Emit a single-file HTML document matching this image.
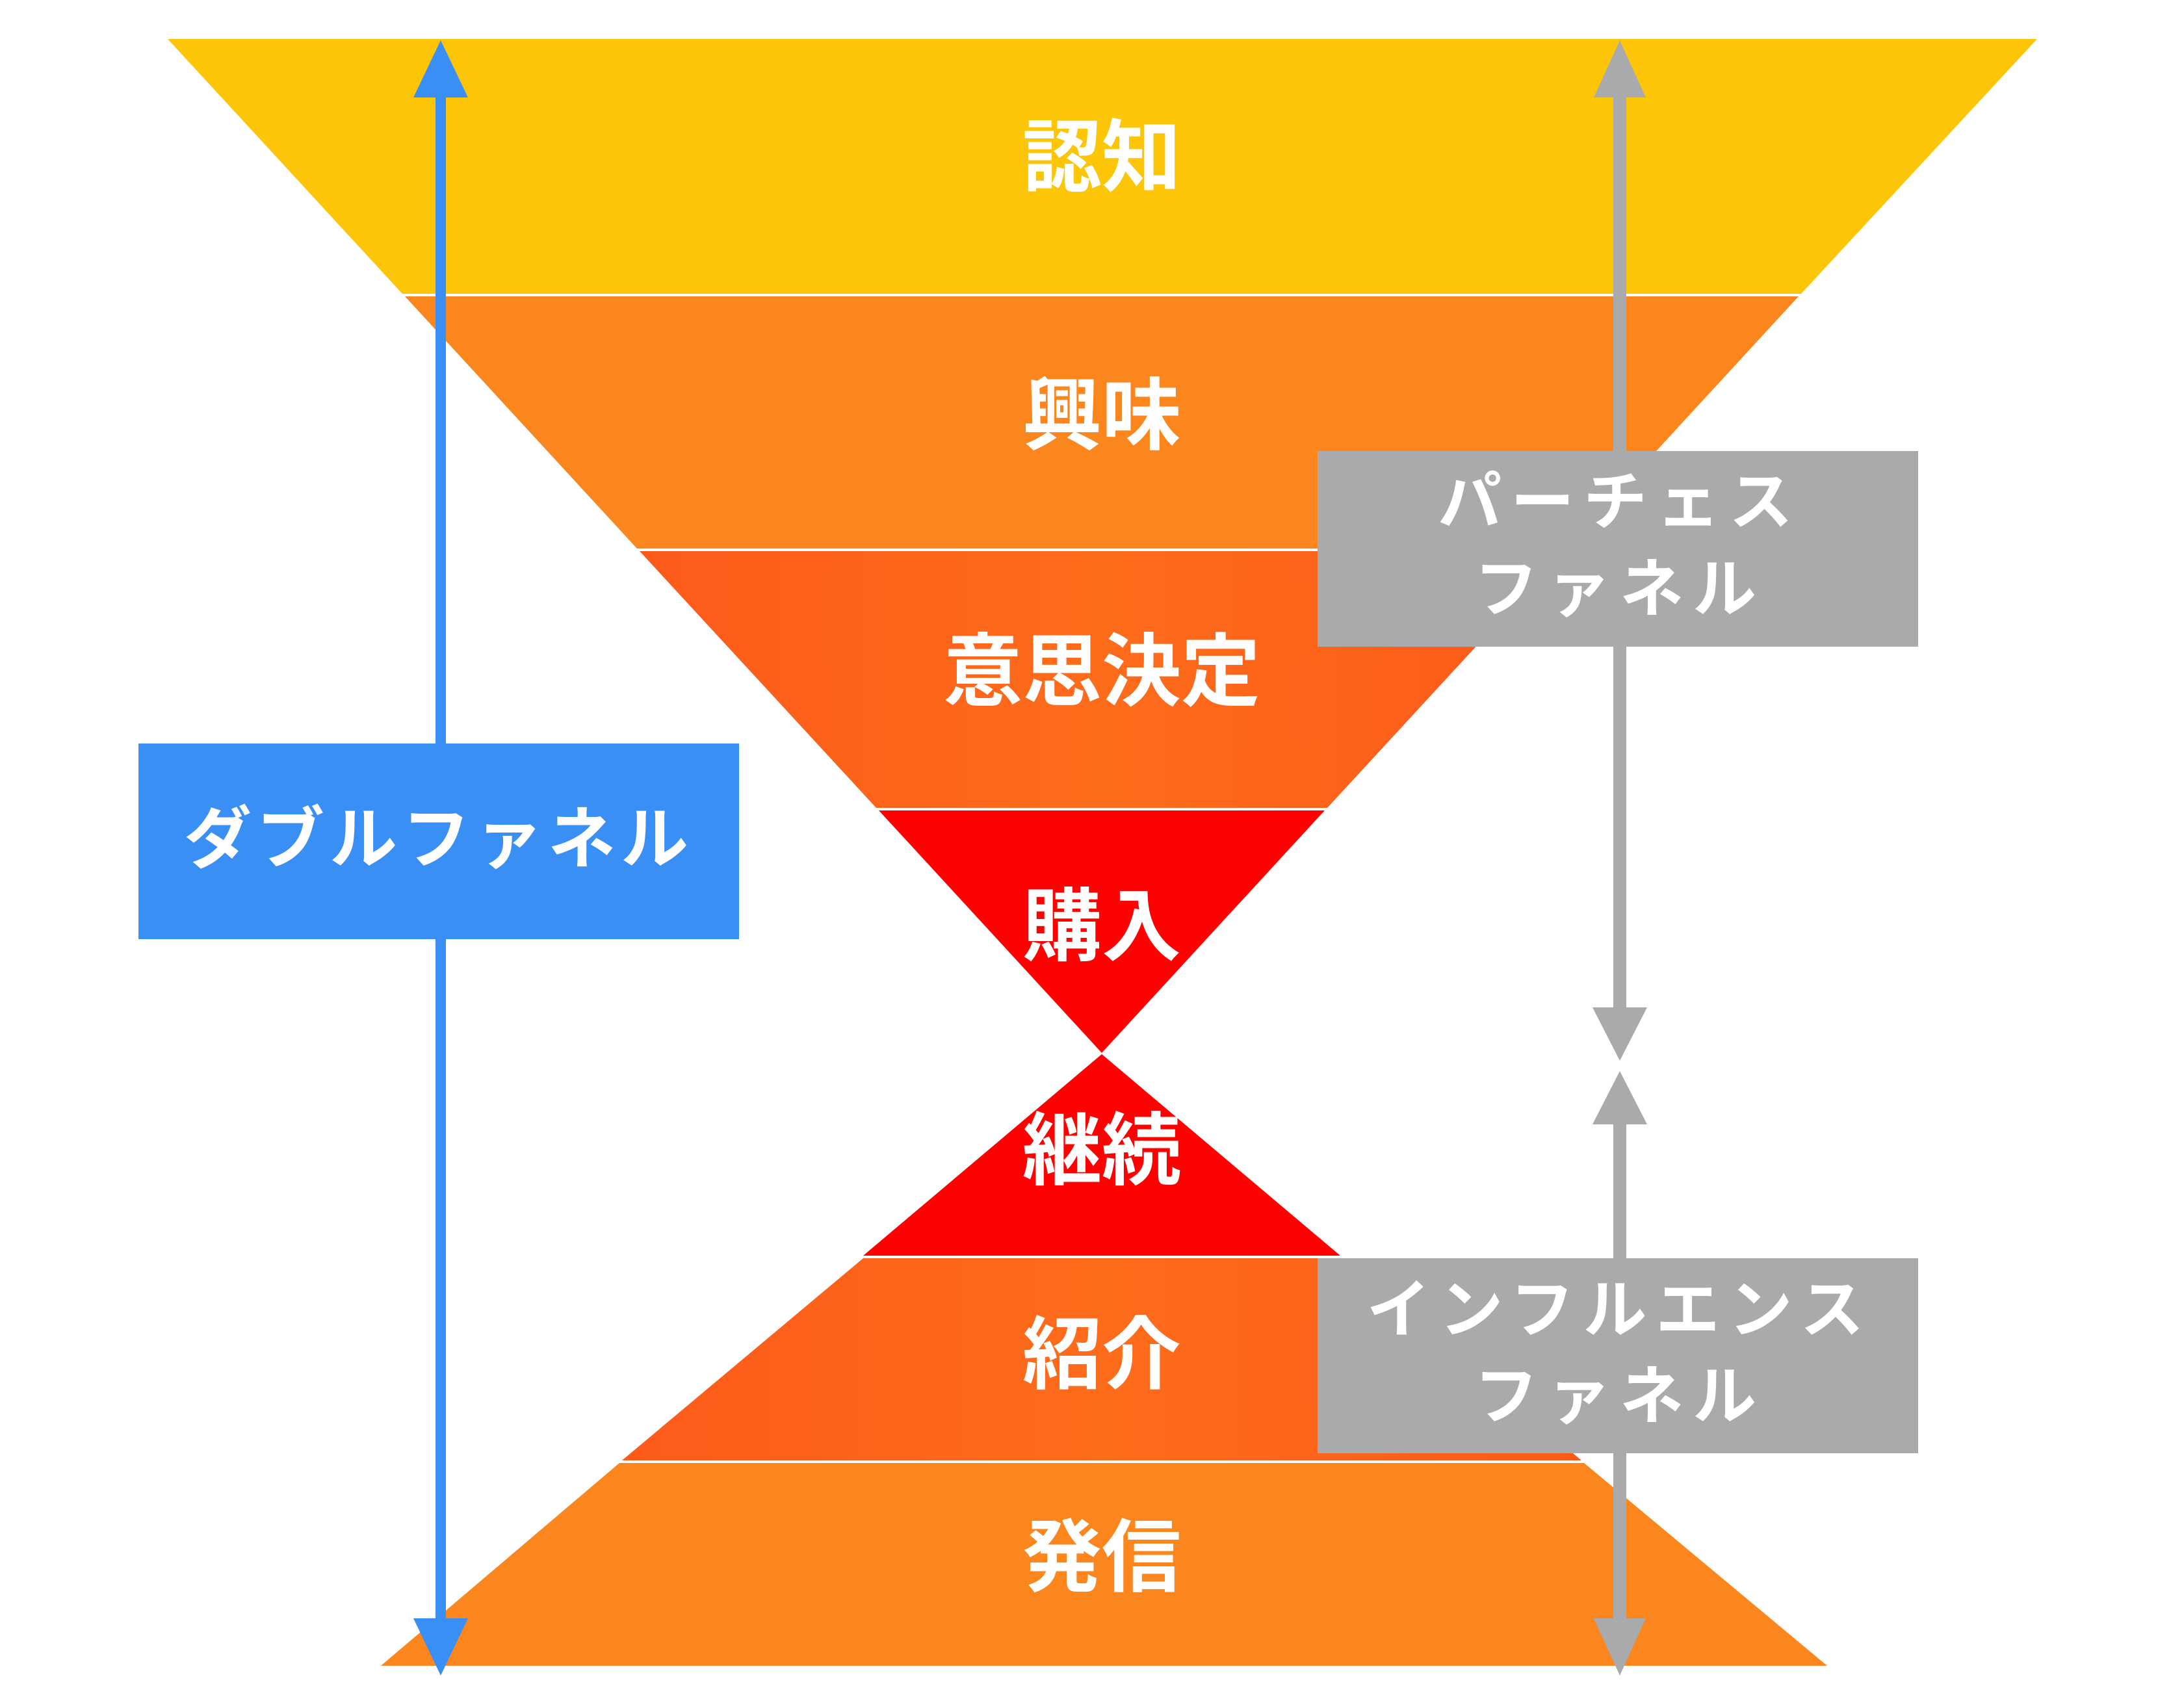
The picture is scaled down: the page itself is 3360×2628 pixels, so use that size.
<!DOCTYPE html>
<html><head><meta charset="utf-8"><style>
html,body{margin:0;padding:0;background:#fff;}
svg{display:block;}
text{font-family:"Liberation Sans","Noto Sans CJK JP",sans-serif;font-weight:bold;fill:#fff;text-anchor:middle;dominant-baseline:central;}
</style></head><body>
<svg width="3360" height="2628" viewBox="0 0 3360 2628" xmlns="http://www.w3.org/2000/svg">
<defs>
<linearGradient id="g3" x1="0" x2="1" y1="0" y2="0"><stop offset="0" stop-color="#fd5a1a"/><stop offset="0.5" stop-color="#fd6c1b"/><stop offset="1" stop-color="#fd5a1a"/></linearGradient>
</defs>
<!-- top funnel -->
<polygon points="258,60 3134,60 2771,452 619,452" fill="#fdc507"/>
<polygon points="623,456 2767,456 2410,844 980,844" fill="#fb861d"/>
<polygon points="984,848 2406,848 2042,1243 1348,1243" fill="url(#g3)"/>
<polygon points="1352,1247 2038,1247 1695,1620" fill="#fe0202"/>
<!-- bottom funnel -->
<polygon points="1695,1622 2062,1932 1328,1932" fill="#fe0202"/>
<polygon points="1328,1936 2062,1936 2433,2247 957,2247" fill="url(#g3)"/>
<polygon points="953,2251 2437,2251 2811,2563 586,2563" fill="#fb861d"/>
<!-- labels -->
<g font-size="122">
<text x="1695" y="243">認知</text>
<text x="1695" y="640">興味</text>
<text x="1695" y="1034">意思決定</text>
<text x="1695" y="1426">購入</text>
<text x="1695" y="1771">継続</text>
<text x="1695" y="2085">紹介</text>
<text x="1695" y="2397">発信</text>
</g>
<!-- blue arrow -->
<rect x="670" y="140" width="16" height="2350" fill="#3a8ff5"/>
<polygon points="678,62 636,150 720,150" fill="#3a8ff5"/>
<polygon points="678,2578 636,2490 720,2490" fill="#3a8ff5"/>
<rect x="213" y="1144" width="924" height="301" fill="#3a8ff5"/>
<text x="675" y="1292" font-size="104" letter-spacing="8">ダブルファネル</text>
<!-- gray arrows -->
<g fill="#a9aaac">
<rect x="2482" y="140" width="20" height="560"/>
<polygon points="2492,62 2452,150 2532,150"/>
<rect x="2482" y="990" width="20" height="560"/>
<polygon points="2492,1632 2450,1550 2534,1550"/>
<polygon points="2492,1648 2450,1730 2534,1730"/>
<rect x="2482" y="1725" width="20" height="215"/>
<rect x="2482" y="2230" width="20" height="270"/>
<polygon points="2492,2578 2452,2490 2532,2490"/>
<rect x="2027" y="694" width="924" height="301"/>
<rect x="2027" y="1936" width="924" height="300"/>
</g>
<g font-size="98" letter-spacing="14">
<text x="2492" y="772">パーチェス</text>
<text x="2492" y="906">ファネル</text>
<text x="2492" y="2015">インフルエンス</text>
<text x="2492" y="2148">ファネル</text>
</g>
</svg>
</body></html>
